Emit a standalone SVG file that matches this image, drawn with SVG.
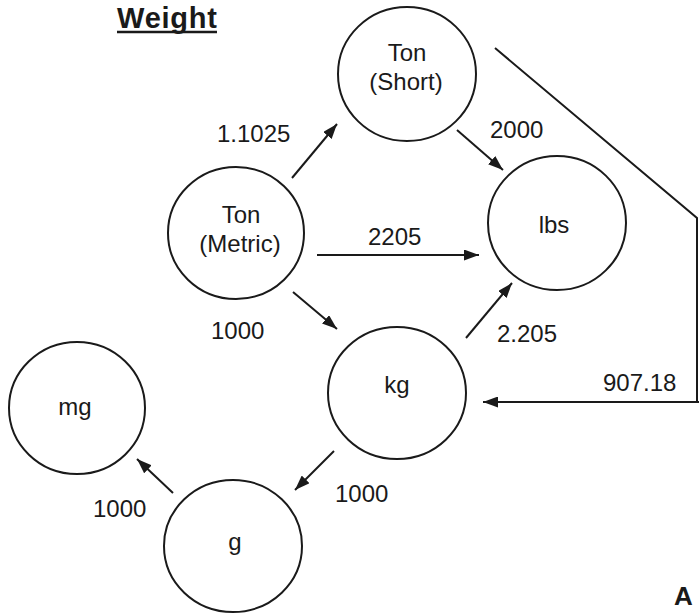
<svg xmlns="http://www.w3.org/2000/svg" width="699" height="613" viewBox="0 0 699 613">
<defs>
<marker id="ah" markerUnits="userSpaceOnUse" markerWidth="15" markerHeight="11" refX="15" refY="5.5" orient="auto">
<path d="M0,0 L15,5.5 L0,11 Z" fill="#1a1a1a"/>
</marker>
<style>
.n{fill:none;stroke:#1a1a1a;stroke-width:2}
.t{font-family:"Liberation Sans",Arial,sans-serif;font-size:24px;fill:#1a1a1a;text-anchor:middle}
.l{font-family:"Liberation Sans",Arial,sans-serif;font-size:24px;fill:#1a1a1a}
.c{fill:none;stroke:#1a1a1a;stroke-width:2}
.a{marker-end:url(#ah)}
</style>
</defs>
<rect width="699" height="613" fill="#ffffff"/>
<text x="117" y="28" font-family="Liberation Sans,Arial,sans-serif" font-size="29" font-weight="bold" fill="#1a1a1a" textLength="100">Weight</text>
<line x1="117" y1="32" x2="217" y2="32" stroke="#1a1a1a" stroke-width="2.5"/>
<g id="ton-short">
<ellipse class="n" cx="407" cy="74" rx="69" ry="67"/>
<text class="t" x="407" y="61">Ton</text>
<text class="t" x="406" y="90">(Short)</text>
</g>
<g id="ton-metric">
<ellipse class="n" cx="236" cy="233" rx="68" ry="66"/>
<text class="t" x="241" y="223">Ton</text>
<text class="t" x="240" y="252">(Metric)</text>
</g>
<g id="lbs">
<ellipse class="n" cx="557" cy="223" rx="69" ry="67"/>
<text class="t" x="554" y="233">lbs</text>
</g>
<g id="kg">
<ellipse class="n" cx="397" cy="393" rx="69" ry="66"/>
<text class="t" x="397" y="393">kg</text>
</g>
<g id="mg">
<ellipse class="n" cx="77" cy="408" rx="68" ry="66"/>
<text class="t" x="75" y="415">mg</text>
</g>
<g id="g">
<ellipse class="n" cx="233" cy="546" rx="69" ry="66"/>
<text class="t" x="235" y="550">g</text>
</g>
<g id="connectors">
<line class="c a" x1="292" y1="178" x2="337" y2="124"/>
<line class="c a" x1="457" y1="130" x2="503" y2="170"/>
<line class="c a" x1="317" y1="255" x2="479" y2="255"/>
<line class="c a" x1="293" y1="292" x2="337" y2="329"/>
<line class="c a" x1="466" y1="338" x2="512" y2="283"/>
<polyline class="c" points="495,48 697,218 697,402"/>
<line class="c a" x1="699" y1="402" x2="483" y2="402"/>
<line class="c a" x1="334" y1="451" x2="295" y2="490"/>
<line class="c a" x1="173" y1="493" x2="137" y2="459"/>
<text class="l" x="217" y="142">1.1025</text>
<text class="l" x="490" y="138">2000</text>
<text class="l" x="368" y="245">2205</text>
<text class="l" x="211" y="339">1000</text>
<text class="l" x="497" y="342">2.205</text>
<text class="l" x="603" y="391">907.18</text>
<text class="l" x="335" y="502">1000</text>
<text class="l" x="93" y="517">1000</text>
</g>
<text x="674" y="605" font-family="Liberation Sans,Arial,sans-serif" font-size="26" font-weight="bold" fill="#1a1a1a">A</text>
</svg>
